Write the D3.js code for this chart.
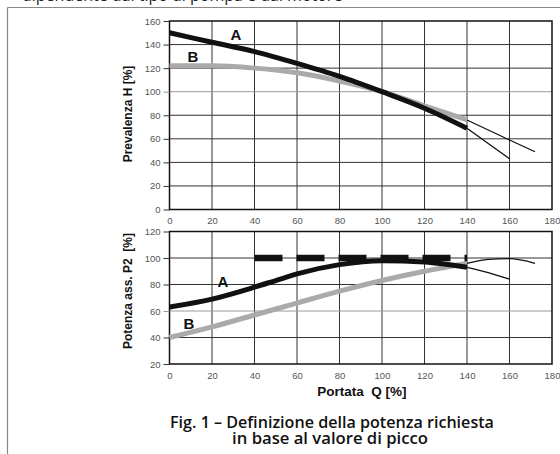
<!DOCTYPE html>
<html><head><meta charset="utf-8">
<script src="https://cdn.jsdelivr.net/npm/d3@7"></script>
<style>html,body{margin:0;padding:0;background:#fff;} svg{display:block;}</style>
</head><body>
<script>
// ---- data ----
const flowTicks = [0,20,40,60,80,100,120,140,160,180];
const headTicks = [0,20,40,60,80,100,120,140,160];
const powerTicks = [20,40,60,80,100,120];

const flow   = [0,20,40,60,80,100,120,140];
const headA  = [150,142,134,124,113,100,86,69];
const headB  = [122,122,120,116,109,100,88,76];
const headAExtQ = [140,160];      const headAExt = [69,43];
const headBExtQ = [140,160,172];  const headBExt = [76,59,49];

const powerQ  = [0,20,40,50,60,80,100,120,140];
const powerA  = [63,69,78,83,88,95,98,97,93];
const powerBQ = [0,20,40,60,80,100,120,130,140];
const powerB  = [40,48,57,66,75,83,90,93,96];
const powerAExtQ = [140,150,160];     const powerAExt = [93,89,84];
const powerBExtQ = [140,150,160,172]; const powerBExt = [96,99,99.5,96];
const peakQ = [40,140]; const peakP = [100,100];

const topText = "dipendente dal tipo di pompa e dal motore";
const caption1 = "Fig. 1 \u2013 Definizione della potenza richiesta";
const caption2 = "in base al valore di picco";

// ---- drawing ----
const W = 560, H = 454;
const svg = d3.select("body").append("svg").attr("width", W).attr("height", H);

// cropped top text (as in the reference, only its lower edge shows) + frame
svg.append("text").attr("x", 22).attr("y", 0.5).attr("font-family","Open Sans").attr("font-size",16)
  .attr("fill","#222").text(topText);
svg.append("line").attr("x1",7.5).attr("x2",560).attr("y1",7.5).attr("y2",7.5).attr("stroke","#888").attr("stroke-width",1.2);
svg.append("line").attr("x1",7.5).attr("x2",7.5).attr("y1",7.5).attr("y2",454).attr("stroke","#888").attr("stroke-width",1.2);

const x = d3.scaleLinear().domain([0,180]).range([169.5,552]);
const yTop = d3.scaleLinear().domain([0,160]).range([209.5,21]);
const yBot = d3.scaleLinear().domain([20,120]).range([364,231.5]);

function panel(y, yticks, lightVal, labelY, title) {
  const g = svg.append("g");
  const [y0,y1] = y.range();
  g.selectAll(".vg").data(flowTicks.slice(1,-1)).join("line")
    .attr("x1",d=>x(d)).attr("x2",d=>x(d)).attr("y1",y1).attr("y2",y0)
    .attr("stroke","#333").attr("stroke-width",1);
  g.selectAll(".hg").data(yticks.slice(1,-1)).join("line")
    .attr("x1",x(0)).attr("x2",x(180)).attr("y1",d=>y(d)).attr("y2",d=>y(d))
    .attr("stroke",d=>d===lightVal?"#9a9a9a":"#333").attr("stroke-width",1);
  g.append("rect").attr("x",x(0)).attr("y",y1).attr("width",x(180)-x(0)).attr("height",y0-y1)
    .attr("fill","none").attr("stroke","#111").attr("stroke-width",1.5);
  const ay = d3.axisLeft(y).tickValues(yticks).tickSize(6).tickPadding(3);
  const ga = g.append("g").attr("transform",`translate(${x(0)},0)`).call(ay);
  ga.select(".domain").remove();
  ga.selectAll("line").attr("stroke",d=>d===lightVal?"#9a9a9a":"#333");
  ga.selectAll("text").attr("font-family","Liberation Sans, Arial").attr("font-size",9.5).attr("fill","#555");
  const ax = d3.axisBottom(x).tickValues(flowTicks).tickSize(0).tickPadding(8);
  const gx = g.append("g").attr("transform",`translate(0,${y0})`).call(ax);
  gx.select(".domain").remove();
  gx.selectAll("text").attr("font-family","Liberation Sans, Arial").attr("font-size",9.5).attr("fill","#555");
  svg.append("text").attr("transform",`translate(132,${labelY}) rotate(-90)`)
    .attr("text-anchor","middle").attr("font-family","Liberation Sans, Arial").attr("font-weight","bold")
    .attr("font-size",12).attr("fill","#111").attr("xml:space","preserve").text(title);
  return g;
}

const gTop = panel(yTop, headTicks, 100, 114, "Prevalenza H [%]");
const gBot = panel(yBot, powerTicks, 60, 291, "Potenza ass. P2  [%]");

function drawLine(g, y, xs, ys, color, width, dash, curve) {
  const pts = xs.map((q,i)=>[q, ys[i]]);
  const line = d3.line().x(d=>x(d[0])).y(d=>y(d[1])).curve(curve||d3.curveMonotoneX);
  g.append("path").attr("d", line(pts)).attr("fill","none").attr("stroke",color)
    .attr("stroke-width",width).attr("stroke-dasharray",dash||null).attr("stroke-linecap","butt");
}

drawLine(gTop, yTop, headAExtQ, headAExt, "#111", 1.3);
drawLine(gTop, yTop, headBExtQ, headBExt, "#111", 1.3);
drawLine(gTop, yTop, flow, headB, "#aaaaaa", 5);
drawLine(gTop, yTop, flow, headA, "#111", 5);

drawLine(gBot, yBot, powerAExtQ, powerAExt, "#111", 1.3);
drawLine(gBot, yBot, powerBExtQ, powerBExt, "#111", 1.3);
drawLine(gBot, yBot, powerBQ, powerB, "#aaaaaa", 5);
drawLine(gBot, yBot, powerQ, powerA, "#111", 5);
drawLine(gBot, yBot, peakQ, peakP, "#111", 6.5, "28,14", d3.curveLinear);

const lab = (px,py,t)=>svg.append("text").attr("x",px).attr("y",py).attr("text-anchor","middle")
  .attr("dominant-baseline","central").attr("font-family","Liberation Sans, Arial").attr("font-weight","bold")
  .attr("font-size",15).attr("fill","#111").text(t);
lab(236,34,"A"); lab(193,56,"B"); lab(223,281,"A"); lab(189,323,"B");

svg.append("text").attr("x",362).attr("y",396).attr("text-anchor","middle")
  .attr("font-family","Liberation Sans, Arial").attr("font-weight","bold").attr("font-size",13.5)
  .attr("fill","#111").attr("xml:space","preserve").text("Portata  Q [%]");

// caption, font size fitted to the reference line widths
function fitText(px, py, t, targetW) {
  const el = svg.append("text").attr("x",px).attr("y",py).attr("text-anchor","middle")
    .attr("font-family","Open Sans").attr("font-weight",600).attr("font-size",14).attr("fill","#111").text(t);
  const w = el.node().getComputedTextLength();
  el.attr("font-size", 14*targetW/w);
  return el;
}
fitText(332, 428, caption1, 324);
fitText(330, 444, caption2, 196);
</script>
</body></html>
